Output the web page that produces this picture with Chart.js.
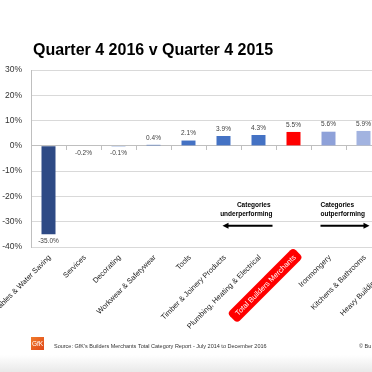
<!DOCTYPE html>
<html>
<head>
<meta charset="utf-8">
<script src="https://cdn.jsdelivr.net/npm/chart.js@4.4.1/dist/chart.umd.min.js"></script>
<style>
html,body{margin:0;padding:0;width:372px;height:372px;overflow:hidden;background:#fff;}
#wrap{position:absolute;left:0;top:0;width:417px;height:372px;}
</style>
</head>
<body>
<div id="wrap"><canvas id="c" width="417" height="372"></canvas></div>
<script>
const categories = ["Renewables & Water Saving","Services","Decorating","Workwear & Safetywear","Tools","Timber & Joinery Products","Plumbing, Heating & Electrical","Total Builders Merchants","Ironmongery","Kitchens & Bathrooms","Heavy Building Materials"];
// last category lies outside the cropped picture; its value is not visible
const growth = [-35.0, -0.2, -0.1, 0.4, 2.1, 3.9, 4.3, 5.5, 5.6, 5.9, null];
const barColors = ["#2E4A85","#4472C4","#4472C4","#4472C4","#4472C4","#4472C4","#4472C4","#FF0000","#8EA1D9","#A2B3E0","#A2B3E0"];
const yTicks = [30, 20, 10, 0, -10, -20, -30, -40];
const titleText = "Quarter 4 2016 v Quarter 4 2015";
const highlightIndex = 7;
const sourceText = "Source: GfK's Builders Merchants Total Category Report - July 2014 to December 2016";

const FONT = "'Liberation Sans', Arial, sans-serif";

const decor = {
  id: 'decor',
  beforeDraw(chart) {
    const ctx = chart.ctx;
    ctx.save();
    ctx.fillStyle = '#fff';
    ctx.fillRect(0, 0, chart.width, chart.height);
    const g = ctx.createLinearGradient(0, 355, 0, 372);
    g.addColorStop(0, '#ffffff');
    g.addColorStop(1, '#e9e9e9');
    ctx.fillStyle = g;
    ctx.fillRect(0, 355, chart.width, 17);
    ctx.restore();
  },
  afterDraw(chart) {
    const ctx = chart.ctx;
    const xs = chart.scales.x, ys = chart.scales.y;
    const meta = chart.getDatasetMeta(0);
    ctx.save();
    // title
    ctx.fillStyle = '#000';
    ctx.font = "bold 16px " + FONT;
    ctx.textAlign = 'left';
    ctx.textBaseline = 'alphabetic';
    ctx.fillText(titleText, 33, 55);

    // data labels
    ctx.font = "6.5px " + FONT;
    ctx.fillStyle = '#404040';
    ctx.textAlign = 'center';
    ctx.textBaseline = 'middle';
    meta.data.forEach((bar, i) => {
      const v = growth[i];
      if (v === null || v === undefined) return;
      const y = v >= 0 ? bar.y - 7 : bar.y + 7;
      ctx.fillText(v.toFixed(1) + '%', bar.x, y);
    });

    // x category labels (rotated)
    ctx.font = "7.5px " + FONT;
    categories.forEach((lab, i) => {
      const x = xs.getPixelForValue(i) + 1;
      const y = 256;
      ctx.save();
      ctx.translate(x, y);
      ctx.rotate(-Math.PI / 4);
      ctx.textAlign = 'right';
      ctx.textBaseline = 'middle';
      if (i === highlightIndex) {
        const w = ctx.measureText(lab).width;
        ctx.fillStyle = '#FF0000';
        ctx.beginPath();
        ctx.roundRect(-w - 6, -7, w + 11, 14, 4);
        ctx.fill();
        ctx.fillStyle = '#fff';
        ctx.fillText(lab, 0, 0.5);
      } else {
        ctx.fillStyle = '#222';
        ctx.fillText(lab, 0, 0.5);
      }
      ctx.restore();
    });

    // annotations
    const cx = xs.getPixelForValue(highlightIndex);
    ctx.fillStyle = '#000';
    ctx.strokeStyle = '#000';
    ctx.font = "bold 6.5px " + FONT;
    ctx.textBaseline = 'middle';
    const yA = ys.getPixelForValue(-23.3), yB = ys.getPixelForValue(-26.9), yArr = ys.getPixelForValue(-31.6);
    ctx.textAlign = 'right';
    ctx.fillText('Categories', cx - 23, yA);
    ctx.fillText('underperforming', cx - 21, yB);
    ctx.textAlign = 'left';
    ctx.fillText('Categories', cx + 27, yA);
    ctx.fillText('outperforming', cx + 27, yB);
    ctx.lineWidth = 2;
    ctx.beginPath();
    ctx.moveTo(cx - 21, yArr); ctx.lineTo(cx - 66, yArr); ctx.stroke();
    ctx.beginPath();
    ctx.moveTo(cx - 71, yArr); ctx.lineTo(cx - 65, yArr - 3); ctx.lineTo(cx - 65, yArr + 3); ctx.closePath(); ctx.fill();
    ctx.beginPath();
    ctx.moveTo(cx + 27, yArr); ctx.lineTo(cx + 71, yArr); ctx.stroke();
    ctx.beginPath();
    ctx.moveTo(cx + 76, yArr); ctx.lineTo(cx + 70, yArr - 3); ctx.lineTo(cx + 70, yArr + 3); ctx.closePath(); ctx.fill();

    // footer logo
    const lg = ctx.createLinearGradient(31, 337, 44, 350);
    lg.addColorStop(0, '#F07A2A');
    lg.addColorStop(1, '#E0481A');
    ctx.fillStyle = lg;
    ctx.fillRect(31, 337, 13, 13);
    ctx.fillStyle = '#fff';
    ctx.font = "6.5px " + FONT;
    ctx.textAlign = 'center';
    ctx.textBaseline = 'middle';
    ctx.fillText('GfK', 37.5, 344);
    ctx.fillStyle = '#333';
    ctx.font = "5.5px " + FONT;
    ctx.textAlign = 'left';
    ctx.fillText(sourceText, 54, 346);
    ctx.fillText('\u00A9 Bu', 359, 346);
    ctx.restore();
  }
};

new Chart(document.getElementById('c'), {
  type: 'bar',
  data: {
    labels: categories,
    datasets: [{
      data: growth,
      backgroundColor: barColors,
      borderWidth: 0,
      barPercentage: 0.4,
      categoryPercentage: 1.0
    }]
  },
  options: {
    responsive: false,
    animation: false,
    devicePixelRatio: 1,
    layout: { padding: { top: 70, bottom: 125, left: 0, right: 1 } },
    plugins: { legend: { display: false }, tooltip: { enabled: false }, title: { display: false } },
    scales: {
      x: {
        position: { y: 0 },
        ticks: { display: false },
        grid: { drawOnChartArea: false, offset: true, drawTicks: true, tickLength: 4, color: '#bfbfbf' },
        border: { display: true, color: '#bfbfbf' }
      },
      y: {
        min: -40, max: 30,
        afterFit(scale) { scale.width = 31; },
        afterBuildTicks(scale) { scale.ticks = yTicks.map(v => ({ value: v })); },
        ticks: {
          padding: 9,
          color: '#333',
          font: { family: FONT, size: 8.5 },
          callback: v => v + '%'
        },
        grid: { color: '#d9d9d9', drawTicks: false },
        border: { display: true, color: '#bfbfbf' }
      }
    }
  },
  plugins: [decor]
});
</script>
</body>
</html>
